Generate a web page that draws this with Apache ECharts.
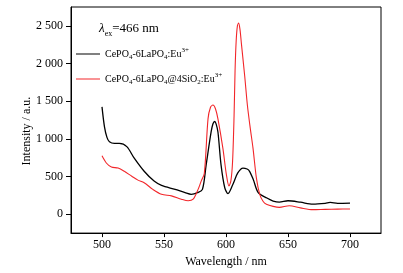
<!DOCTYPE html>
<html>
<head>
<meta charset="utf-8">
<script src="https://cdn.jsdelivr.net/npm/echarts@6/dist/echarts.min.js"></script>
<style>
  html, body { margin: 0; padding: 0; background: #fff; }
  #chart { width: 403px; height: 273px; }
</style>
</head>
<body>
<div id="chart"></div>
<script>
// 数据
const blackName = 'CePO4-6LaPO4:Eu3+'
const redName = 'CePO4-6LaPO4@4SiO2:Eu3+'
const blackX = [500, 502, 504, 506, 510, 514, 520, 526, 534, 542, 548, 559, 567, 572, 577, 581, 584, 588, 589.5, 590.9, 592, 593.5, 596, 599, 601.6, 605.5, 609.5, 613.7, 617, 619, 622, 626, 633, 638, 643, 650, 660, 670, 680, 684, 690, 700]
const blackY = [1425, 1160, 1020, 962, 940, 940, 897, 744, 570, 440, 383, 330, 287, 265, 287, 330, 656, 1092, 1200, 1231, 1200, 1092, 656, 352, 274, 395, 548, 613, 600, 570, 461, 287, 215, 175, 160, 179, 160, 134, 145, 157, 145, 148]
const redX = [500, 503.5, 507.6, 513, 518, 524, 529, 534, 541, 548, 556, 564, 569.5, 573.5, 577.5, 580, 582.5, 585.5, 587.5, 589.5, 591.5, 593.5, 597.5, 600.3, 602.4, 604, 605.3, 606.5, 607.3, 608.2, 609.2, 610.2, 611.3, 612.4, 615.1, 617.3, 619.5, 621.8, 624.5, 627.2, 630, 632.6, 638, 643, 651, 660, 670, 680, 690, 700]
const redY = [775, 680, 626, 613, 570, 505, 453, 418, 330, 265, 244, 200, 179, 200, 330, 440, 540, 1266, 1420, 1449, 1400, 1266, 874, 526, 374, 450, 700, 1300, 1900, 2300, 2500, 2536, 2450, 2267, 1831, 1439, 1150, 874, 483, 265, 170, 134, 105, 91, 113, 85, 61, 65, 68, 70]
const xTicks = [500, 550, 600, 650, 700]
const yTicks = [0, 500, 1000, 1500, 2000, 2500]

const serif = 'Liberation Serif'
const pairs = (xs, ys) => xs.map((x, i) => [x, ys[i]])

// 图例里的上下标
const richName = {
  [blackName]: '{t|CePO}{s|4}{t|-6LaPO}{s|4}{t|:Eu}{p|3+}',
  [redName]: '{t|CePO}{s|4}{t|-6LaPO}{s|4}{t|@4SiO}{s|2}{t|:Eu}{p|3+}'
}

let myChart = echarts.init(document.getElementById('chart'))
let option = {
  backgroundColor: '#fff',
  animation: false,
  title: {
    text: '{l|λ}{s|ex}{t|=466 nm}',
    left: 99,
    top: 20,
    padding: 0,
    textStyle: {
      fontWeight: 'normal',
      rich: {
        l: { fontFamily: serif, fontSize: 13, fontStyle: 'italic', fontWeight: 'normal', color: '#000', lineHeight: 18 },
        s: { fontFamily: serif, fontSize: 8, fontWeight: 'normal', color: '#000', lineHeight: 8, verticalAlign: 'bottom' },
        t: { fontFamily: serif, fontSize: 13, fontWeight: 'normal', color: '#000', lineHeight: 18 }
      }
    }
  },
  legend: {
    orient: 'vertical',
    left: 76,
    top: 47,
    padding: 0,
    itemGap: 11,
    itemWidth: 24,
    itemHeight: 1,
    icon: 'rect',
    data: [blackName, redName],
    formatter: name => richName[name],
    textStyle: {
      rich: {
        t: { fontFamily: serif, fontSize: 10, color: '#000', lineHeight: 14 },
        s: { fontFamily: serif, fontSize: 7, color: '#000', lineHeight: 7, verticalAlign: 'bottom' },
        p: { fontFamily: serif, fontSize: 7, color: '#000', lineHeight: 7, verticalAlign: 'top' }
      }
    }
  },
  grid: {
    left: 71,
    right: 22,
    top: 7,
    bottom: 37,
    show: true,
    borderColor: '#000',
    borderWidth: 1
  },
  xAxis: {
    type: 'value',
    min: 475,
    max: 725,
    name: 'Wavelength / nm',
    nameLocation: 'middle',
    nameGap: 21,
    nameTextStyle: { fontFamily: serif, fontSize: 12, color: '#000' },
    axisLine: { show: true, onZero: false, lineStyle: { color: '#000', width: 1 } },
    axisTick: { show: true, length: 4, customValues: xTicks, lineStyle: { color: '#000' } },
    axisLabel: { customValues: xTicks, fontFamily: serif, fontSize: 12, color: '#000', margin: 6 },
    splitLine: { show: false }
  },
  yAxis: {
    type: 'value',
    min: -250,
    max: 2750,
    name: 'Intensity / a.u.',
    nameLocation: 'middle',
    nameGap: 38,
    nameMoveOverlap: false,
    nameTextStyle: { fontFamily: serif, fontSize: 12, color: '#000', padding: [0, 22, 0, 0] },
    axisLine: { show: true, lineStyle: { color: '#000', width: 1 } },
    axisTick: { show: true, length: 5, customValues: yTicks, lineStyle: { color: '#000' } },
    axisLabel: {
      customValues: yTicks,
      fontFamily: serif,
      fontSize: 12,
      color: '#000',
      margin: 8,
      formatter: v => String(v).replace(/(\d)(?=(\d{3})+$)/, '$1 ')
    },
    splitLine: { show: false }
  },
  series: [
    {
      name: blackName,
      type: 'line',
      data: pairs(blackX, blackY),
      smooth: 0.3,
      showSymbol: false,
      lineStyle: { color: '#000', width: 1.3 },
      itemStyle: { color: '#000' }
    },
    {
      name: redName,
      type: 'line',
      data: pairs(redX, redY),
      smooth: 0.3,
      showSymbol: false,
      lineStyle: { color: '#f2262a', width: 1.1 },
      itemStyle: { color: '#f2262a' }
    }
  ]
}
myChart.setOption(option)
</script>
</body>
</html>
